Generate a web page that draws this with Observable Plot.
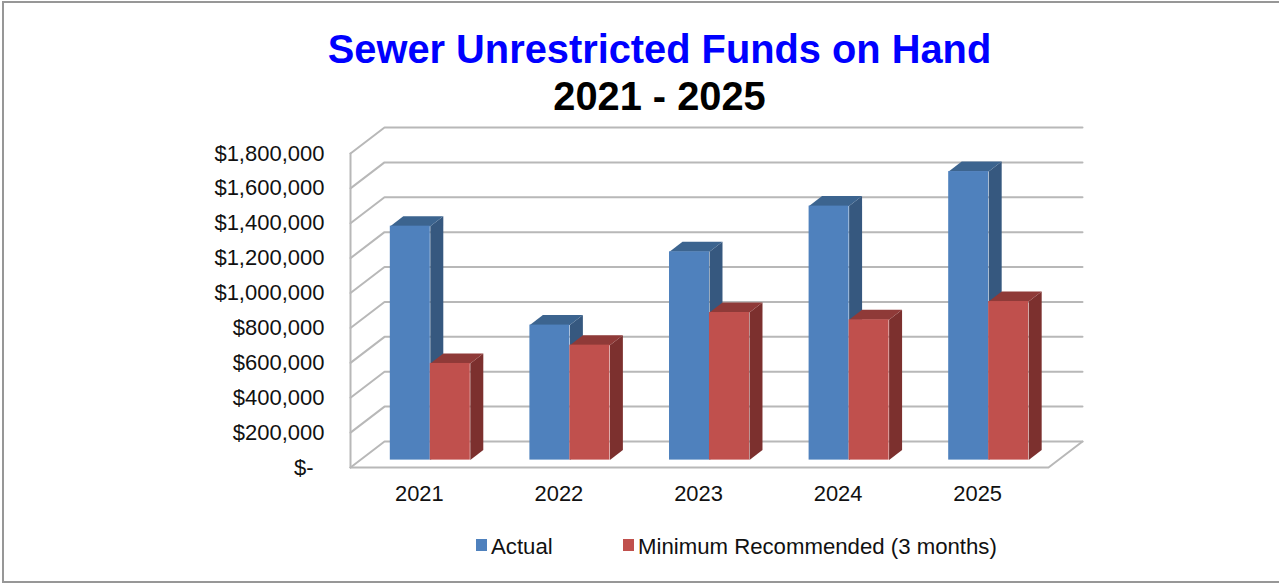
<!DOCTYPE html>
<html>
<head>
<meta charset="utf-8">
<title>Sewer Unrestricted Funds on Hand</title>
<script src="https://cdn.jsdelivr.net/npm/d3@7"></script>
<script src="https://cdn.jsdelivr.net/npm/@observablehq/plot@0.6"></script>
<style>
  html, body { margin: 0; padding: 0; background: #fff; }
  #card {
    position: relative; box-sizing: border-box; overflow: hidden;
    border: solid #979797; border-width: 2px 0 2px 2px;
    margin-top: 1px; margin-left: 2px; width: 1277px; height: 582px;
    font-family: "Liberation Sans", Arial, sans-serif; color: #111;
  }
  .title { text-align: center; font-weight: bold; font-size: 39.8px; line-height: 47px; padding-left: 39px; }
  #head { position: absolute; left: -3px; right: 0; top: 23px; }
  #chart { position: absolute; left: -4px; top: 114px; }
  #chart svg { display: block; background: transparent; }
  .key { position: absolute; top: 529px; font-size: 22.2px; line-height: 30px; white-space: nowrap; }
  .key i { position: absolute; left: -15px; top: 7px; width: 11px; height: 12px; }
</style>
</head>
<body>
<div id="card">
  <div id="head">
    <div class="title" style="color:#0000ff">Sewer Unrestricted Funds on Hand</div>
    <div class="title" style="color:#000">2021 - 2025</div>
  </div>
  <div id="chart"></div>
  <div class="key" style="left:487px"><i style="background:#4f81bd"></i>Actual</div>
  <div class="key" style="left:634px"><i style="background:#c0504d"></i>Minimum Recommended (3 months)</div>
</div>
<script>
// Fiscal years and the two funding series, in dollars
const years = ["2021", "2022", "2023", "2024", "2025"];
const actual = [1341000, 774000, 1194000, 1456000, 1654000];
const minimum = [554000, 659000, 846000, 804000, 909000];

const yTicks = [0, 200000, 400000, 600000, 800000, 1000000, 1200000, 1400000, 1600000, 1800000];
const yTickLabels = ["$-", "$200,000", "$400,000", "$600,000", "$800,000", "$1,000,000", "$1,200,000", "$1,400,000", "$1,600,000", "$1,800,000"];

// Pseudo-3D projection, in scale units: each step back into the chart moves right and up
const wallDepth = {x: 0.2436, y: 149000};   // front edge of the floor to the back wall
const barInset = {x: 0.0716, y: 42400};     // floor front edge to the bar's front face
const barDepth = {x: 0.0931, y: 57300};     // front of a bar to its rear
const barWidth = 0.2865;

const series = [
  {name: "Actual", values: actual, offset: 0, front: "#4f81bd", side: "#36587f", top: "#3c648f"},
  {name: "Minimum", values: minimum, offset: 1, front: "#c0504d", side: "#7c302e", top: "#8f3a38"}
];

const xMax = years.length;

// Wall and floor lines
const grid = yTicks.flatMap((v) => [
  {id: v, x: 0, y: v},
  {id: v, x: wallDepth.x, y: v + wallDepth.y},
  {id: v, x: xMax + wallDepth.x, y: v + wallDepth.y}
]);
const frameLines = [
  {id: "axis", x: 0, y: 0}, {id: "axis", x: 0, y: yTicks[yTicks.length - 1]},
  {id: "floor", x: 0, y: 0}, {id: "floor", x: xMax, y: 0}, {id: "floor", x: xMax + wallDepth.x, y: wallDepth.y}
];

// One entry per bar, then the polygon corners of its side and top faces
const bars = series.flatMap((s) => years.map((year, i) => {
  const x1 = i + barInset.x + 0.5 - barWidth + s.offset * barWidth;
  return {year, x1, x2: x1 + barWidth, y1: barInset.y, y2: barInset.y + s.values[i], s};
}));
// Left-to-right paint order so the red bar overlaps the blue bar's side
bars.sort((a, b) => a.year.localeCompare(b.year) || a.s.offset - b.s.offset);

const marks = [
  Plot.line(grid, {x: "x", y: "y", z: "id", stroke: "#b8b8b8", strokeWidth: 2}),
  Plot.line(frameLines, {x: "x", y: "y", z: "id", stroke: "#b8b8b8", strokeWidth: 2})
];
for (const b of bars) {
  const d = barDepth;
  const side = [[b.x2, b.y1], [b.x2 + d.x, b.y1 + d.y], [b.x2 + d.x, b.y2 + d.y], [b.x2, b.y2], [b.x2, b.y1]];
  const top = [[b.x1, b.y2], [b.x1 + d.x, b.y2 + d.y], [b.x2 + d.x, b.y2 + d.y], [b.x2, b.y2], [b.x1, b.y2]];
  marks.push(
    Plot.line(side, {x: "0", y: "1", fill: b.s.side, stroke: "none"}),
    Plot.line(top, {x: "0", y: "1", fill: b.s.top, stroke: "none"}),
    Plot.rect([b], {x1: "x1", x2: "x2", y1: "y1", y2: "y2", fill: b.s.front})
  );
}
marks.push(
  // Value labels on the axis; the zero label sits further left, as in an accounting format
  Plot.text(yTicks.slice(1), {
    x: () => 0, y: (d) => d, text: (d) => yTickLabels[yTicks.indexOf(d)],
    textAnchor: "end", dx: -26, dy: 0, fontSize: 22, fill: "#111"
  }),
  Plot.text([0], {
    x: () => 0, y: (d) => d, text: () => yTickLabels[0],
    textAnchor: "end", dx: -37, dy: 0, fontSize: 22, fill: "#111"
  }),
  Plot.text(years, {
    x: (d, i) => i + 0.5, y: () => 0, text: (d) => d,
    dx: -1, dy: 26, fontSize: 21.9, fill: "#111"
  })
);

const chart = Plot.plot({
  width: 1279,
  height: 393,
  marginLeft: 350,
  marginRight: 197,
  marginTop: 10,
  marginBottom: 43,
  style: {fontFamily: '"Liberation Sans", Arial, sans-serif', background: "transparent"},
  x: {domain: [0, xMax + wallDepth.x], axis: null},
  y: {domain: [0, yTicks[yTicks.length - 1] + wallDepth.y], axis: null},
  marks
});
document.getElementById("chart").appendChild(chart);
</script>
</body>
</html>
